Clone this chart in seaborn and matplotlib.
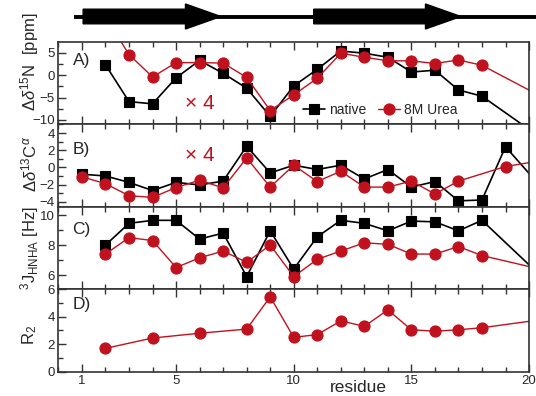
import matplotlib
matplotlib.use('Agg')
import matplotlib.pyplot as plt
from matplotlib.patches import Polygon
from matplotlib.ticker import MultipleLocator
import seaborn as sns
import pandas as pd

sns.set_theme(style='ticks')
plt.rcParams['font.family'] = ['Liberation Sans', 'DejaVu Sans']
plt.rcParams['mathtext.fontset'] = 'custom'
plt.rcParams['mathtext.rm'] = 'Liberation Sans'
plt.rcParams['mathtext.it'] = 'Liberation Sans:italic'

RED = '#c0121e'
SPINE = '#333333'

# secondary structure (beta strands, residue ranges)
strands = [(1.05, 6.9), (10.85, 17.1)]
coil = (0.66, 20.3)

# A) delta 15N  (urea values x4); point 21 lies off the chart
a_native_res = [2, 3, 4, 5, 6, 7, 8, 9, 10, 11, 12, 13, 14, 15, 16, 17, 18, 21]
a_native = [2.3, -5.9, -6.4, -0.6, 3.3, 0.4, -2.9, -9.2, -2.4, 1.3, 5.4, 4.9, 4.0, 0.7, 1.1, -3.3, -4.7, -15.8]
a_urea_res = [2, 3, 4, 5, 6, 7, 8, 9, 10, 11, 12, 13, 14, 15, 16, 17, 18, 21]
a_urea = [13.0, 4.6, -0.4, 2.8, 2.8, 2.7, -0.5, -7.9, -4.4, -0.7, 4.9, 4.0, 3.2, 3.2, 2.6, 3.4, 2.2, -6.1]

# B) delta 13C alpha
b_native_res = list(range(1, 20)) + [21]
b_native = [-0.8, -1.0, -1.75, -2.7, -1.75, -2.05, -1.6, 2.45, -0.65, 0.25, -0.25, 0.25, -1.35,
            -0.25, -2.3, -1.65, -3.9, -3.8, 2.4, -3.8]
b_urea_res = list(range(1, 18)) + [19, 21]
b_urea = [-1.1, -1.9, -3.3, -3.5, -2.35, -1.5, -2.4, 1.1, -2.3, 0.25, -1.65, -0.45, -2.3,
          -2.3, -1.6, -3.1, -1.6, 0.1, 1.0]

# C) 3J HNHA
c_res = list(range(2, 19)) + [21]
c_native = [8.0, 9.45, 9.65, 9.65, 8.4, 8.8, 5.9, 8.95, 6.4, 8.55, 9.65, 9.45, 8.95, 9.6, 9.55, 8.95, 9.65, 5.2]
c_urea = [7.4, 8.5, 8.3, 6.5, 7.15, 7.6, 6.85, 8.0, 5.9, 7.05, 7.6, 8.15, 8.05, 7.4, 7.4, 7.9, 7.3, 6.2]

# D) R2 (urea only)
d_res = [2, 4, 6, 8, 9, 10, 11, 12, 13, 14, 15, 16, 17, 18, 21]
d_urea = [1.7, 2.45, 2.8, 3.1, 5.45, 2.5, 2.7, 3.7, 3.3, 4.5, 3.05, 2.95, 3.05, 3.2, 3.9]

fig = plt.figure(figsize=(5.36, 3.96), dpi=100)
left, width = 0.109, 0.878
bottom, top = 0.0614, 0.8939
h = (top - bottom) / 4

# strand arrows on top
ax0 = fig.add_axes([left, 1 - 36 / 396, width, 36 / 396])
ax0.set_xlim(0, 20)
ax0.set_ylim(0, 36)
ax0.axis('off')
yc = 19.5
ax0.plot(coil, [yc, yc], color='black', lw=2.8, clip_on=False, solid_capstyle='butt')
for s, e in strands:
    hl, bh, hh = 1.5, 7.3, 12.5
    pts = [(s, yc - bh), (e - hl, yc - bh), (e - hl, yc - hh), (e, yc), (e - hl, yc + hh),
           (e - hl, yc + bh), (s, yc + bh)]
    ax0.add_patch(Polygon(pts, closed=True, color='black', clip_on=False))

axes = [fig.add_axes([left, top - (i + 1) * h, width, h]) for i in range(4)]


def series(ax, x, y, color, marker, ms, lw, label=None):
    df = pd.DataFrame({'residue': x, 'value': y})
    sns.lineplot(data=df, x='residue', y='value', ax=ax, color=color, marker=marker,
                 markersize=ms, markeredgecolor=color, markeredgewidth=0.8, linewidth=lw,
                 estimator=None, sort=False, label=label, legend=False)


series(axes[0], a_native_res, a_native, 'black', 's', 7, 1.2, 'native')
series(axes[0], a_urea_res, a_urea, RED, 'o', 8, 1.0, '8M Urea')
series(axes[1], b_native_res, b_native, 'black', 's', 7, 1.2)
series(axes[1], b_urea_res, b_urea, RED, 'o', 8, 1.0)
series(axes[2], c_res, c_native, 'black', 's', 7, 1.2)
series(axes[2], c_res, c_urea, RED, 'o', 8, 1.0)
series(axes[3], d_res, d_urea, RED, 'o', 8, 1.0)

ylims = [(-11, 7.4), (-4.6, 5.0), (5.05, 10.55), (0, 6)]
majors = [[-10, -5, 0, 5], [-4, -2, 0, 2, 4], [6, 8, 10], [0, 2, 4, 6]]
minors = [2.5, 1, 1, 1]
ylabels = [r'$\Delta\delta^{15}$N  [ppm]', r'$\Delta\delta^{13}$C$^{\alpha}$',
           r'$^{3}$J$_{\mathrm{HNHA}}$ [Hz]', r'R$_{2}$']
ylab_y = [0.76, 0.52, 0.5, 0.45]
panel = ['A)', 'B)', 'C)', 'D)']
panel_y = [0.77, 0.7, 0.72, 0.82]

for i, ax in enumerate(axes):
    ax.set_xlim(0, 20)
    ax.set_ylim(*ylims[i])
    ax.set_xticks([1, 5, 10, 15, 20])
    ax.xaxis.set_minor_locator(MultipleLocator(1))
    ax.set_yticks(majors[i])
    ax.yaxis.set_minor_locator(MultipleLocator(minors[i]))
    ax.tick_params(which='both', direction='in', top=True, bottom=True, left=True, right=False,
                   color=SPINE, width=1.0, labelsize=9.5, pad=2.5)
    ax.tick_params(which='major', length=6)
    ax.tick_params(which='minor', length=3.5)
    for sp in ax.spines.values():
        sp.set_color(SPINE)
        sp.set_linewidth(1.2)
    ax.set_xlabel('')
    ax.set_ylabel(ylabels[i], fontsize=12, va='center')
    ax.yaxis.set_label_coords(-0.062, ylab_y[i])
    ax.text(0.03, panel_y[i], panel[i], transform=ax.transAxes, fontsize=12.5,
            ha='left', va='center')
    if i < 3:
        ax.tick_params(labelbottom=False)

axes[3].set_xlabel('residue', fontsize=12.5, va='center')
axes[3].xaxis.set_label_coords(0.637, -0.19)

axes[0].text(5.4, -6.3, u'\u00d7 4', color=RED, fontsize=15, ha='left', va='center')
axes[1].text(5.4, 1.4, u'\u00d7 4', color=RED, fontsize=15, ha='left', va='center')

axes[0].legend(loc='center left', bbox_to_anchor=(0.52, 0.18), ncol=2, frameon=False,
               fontsize=10, handlelength=1.6, handletextpad=0.3, columnspacing=0.8,
               borderaxespad=0, borderpad=0)

fig.savefig('out.png', dpi=100)
